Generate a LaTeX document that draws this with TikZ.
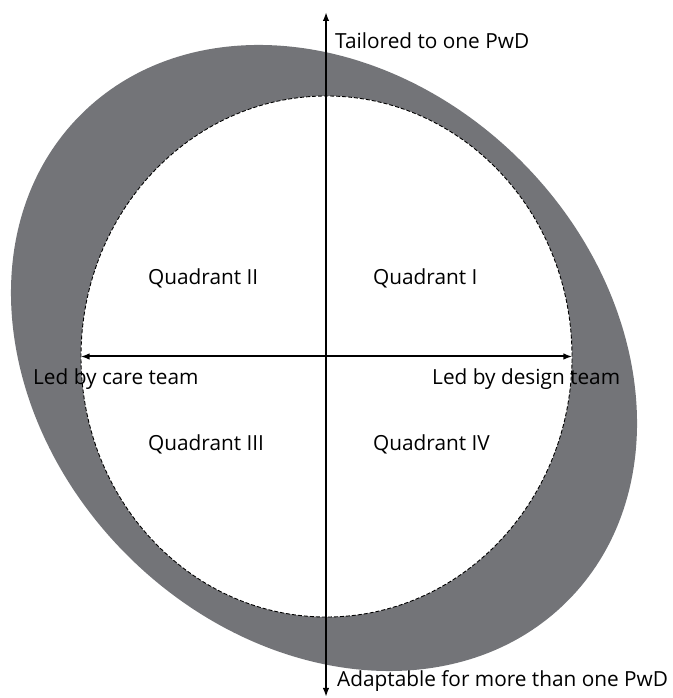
\documentclass[tikz,border=0pt]{standalone}
\usepackage{fontspec}
\setmainfont{Open Sans}
\usetikzlibrary{arrows.meta,shapes.geometric}
\definecolor{ringgrey}{RGB}{115,116,120}
\tikzset{
  axis/.style={line width=2pt, {Latex[length=9pt,width=6.5pt]}-{Latex[length=9pt,width=6.5pt]}},
  lbl/.style={anchor=base west, inner sep=0pt, font=\fontsize{20.8}{24}\selectfont},
  innerring/.style={ellipse, draw=black, fill=white, line width=0.9pt, dash pattern=on 4pt off 2pt,
    minimum width=491pt, minimum height=521pt, inner sep=0pt}
}
\begin{document}
\begin{tikzpicture}[x=1pt,y=1pt]
\useasboundingbox (0,0) rectangle (672,698);
\coordinate (oc) at (324,340);
\fill[ringgrey, rotate around={-45:(oc)}] (oc) ellipse [x radius=344, y radius=278.6];
\node[innerring] (inner) at (326.5,341.5) {};
\coordinate (ytop) at (326,686);
\coordinate (ybot) at (326,1);
\draw[axis] (ybot) -- (ytop);
\draw[axis] (inner.west) -- (inner.east);
\node[lbl] (t1) at (335,649.5) {Tailored to one PwD};
\node[lbl] (t2) at (337,11) {Adaptable for more than one PwD};
\node[lbl] (t3) at (33,313) {Led by care team};
\node[lbl] (t4) at (432,313) {Led by design team};
\node[lbl] (q2) at (148,413) {Quadrant II};
\node[lbl] (q1) at (373,413) {Quadrant I};
\node[lbl] (q3) at (148,247) {Quadrant III};
\node[lbl] (q4) at (373,247) {Quadrant IV};
\end{tikzpicture}
\end{document}
